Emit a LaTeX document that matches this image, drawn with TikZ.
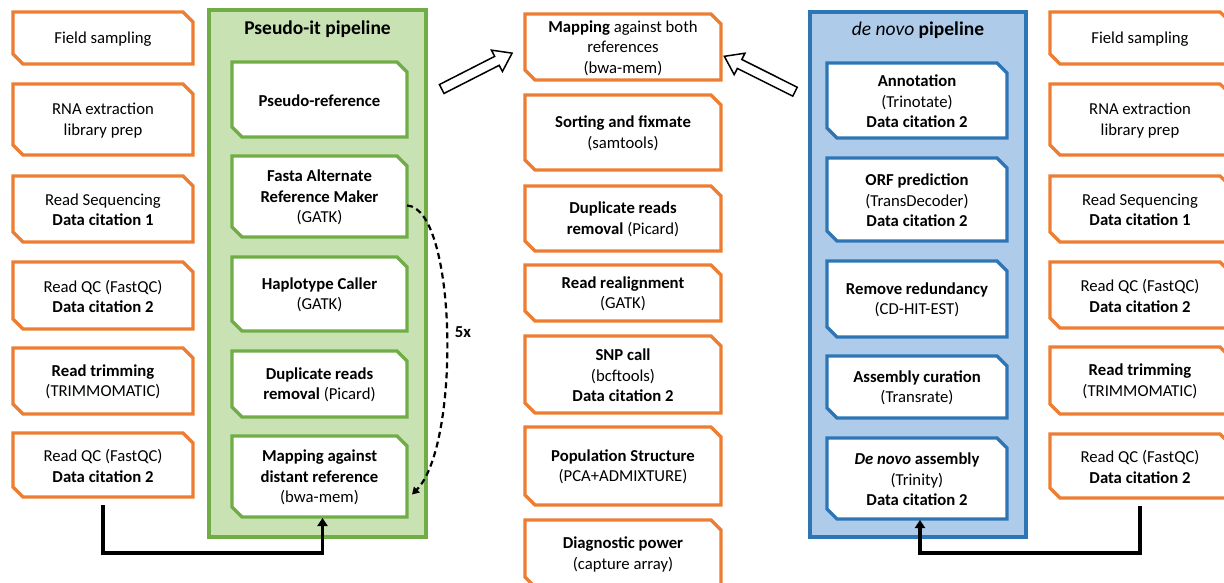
\documentclass[tikz,border=0pt]{standalone}
\usepackage{fontspec}
\setmainfont{Carlito}
\usetikzlibrary{arrows.meta}
\definecolor{orng}{RGB}{237,125,49}
\definecolor{grn}{RGB}{112,173,71}
\definecolor{grnfill}{RGB}{200,226,180}
\definecolor{blu}{RGB}{46,117,182}
\definecolor{blufill}{RGB}{174,204,234}
\newcommand\snipbox[7]{%
  \draw[boxline,draw=#2] (#3,#4) -- ({#5-10},#4) -- (#5,{#4+10}) -- (#5,#6) -- ({#3+10},#6) -- (#3,{#6-10}) -- cycle;
  \node[txt,minimum width={#5-#3},minimum height={#6-#4}] (#1) at ({(#3+#5)/2},{(#4+#6)/2+1}) {#7};
}
\begin{document}
\begin{tikzpicture}[x=1pt,y=-1pt,
  boxline/.style={line width=3.2pt,fill=white,line join=miter},
  txt/.style={align=center,inner sep=0pt,outer sep=0pt,font=\fontsize{16.7}{20.5}\selectfont,text=black},
  panel/.style={line width=3.5pt},
  ttl/.style={inner sep=0pt,font=\fontsize{19.5}{22}\selectfont\bfseries},
  conn/.style={line width=3.5pt,-{Triangle[width=10pt,length=8pt]}},
  blockarrow/.style={line width=1.5pt,draw=black,fill=white,line join=miter},
  loop/.style={line width=2.2pt,dash pattern=on 6pt off 4pt,-{Triangle[width=8pt,length=7pt]}}]
\useasboundingbox (0,0) rectangle (1224,583);

% panels
\draw[panel,draw=grn,fill=grnfill] (209,10) rectangle (426,537);
\node[ttl] (gtitle) at (317.5,29) {Pseudo-it pipeline};
\draw[panel,draw=blu,fill=blufill] (810,12) rectangle (1026,537);
\node[ttl] (btitle) at (918,30) {{\mdseries\itshape de novo} pipeline};

% left column
\snipbox{l1}{orng}{13}{12}{193}{64}{Field sampling}
\snipbox{l2}{orng}{13}{84}{193}{155}{RNA extraction\\library prep}
\snipbox{l3}{orng}{13}{176}{193}{242}{Read Sequencing\\\textbf{Data citation 1}}
\snipbox{l4}{orng}{13}{262}{193}{329}{Read QC (FastQC)\\\textbf{Data citation 2}}
\snipbox{l5}{orng}{13}{348}{193}{414}{\textbf{Read trimming}\\(TRIMMOMATIC)}
\snipbox{l6}{orng}{13}{433}{193}{497}{Read QC (FastQC)\\\textbf{Data citation 2}}

% right column
\snipbox{r1}{orng}{1050}{12}{1230}{64}{Field sampling}
\snipbox{r2}{orng}{1050}{84}{1230}{155}{RNA extraction\\library prep}
\snipbox{r3}{orng}{1050}{176}{1230}{242}{Read Sequencing\\\textbf{Data citation 1}}
\snipbox{r4}{orng}{1050}{262}{1230}{328}{Read QC (FastQC)\\\textbf{Data citation 2}}
\snipbox{r5}{orng}{1050}{347}{1230}{414}{\textbf{Read trimming}\\(TRIMMOMATIC)}
\snipbox{r6}{orng}{1050}{434}{1230}{498}{Read QC (FastQC)\\\textbf{Data citation 2}}

% green pipeline
\snipbox{g1}{grn}{232}{62}{407}{137}{\textbf{Pseudo-reference}}
\snipbox{g2}{grn}{232}{156}{407}{237}{\textbf{Fasta Alternate}\\\textbf{Reference Maker}\\(GATK)}
\snipbox{g3}{grn}{232}{257}{407}{331}{\textbf{Haplotype Caller}\\(GATK)}
\snipbox{g4}{grn}{232}{351}{407}{417}{\textbf{Duplicate reads}\\\textbf{removal} (Picard)}
\snipbox{g5}{grn}{232}{436}{407}{517}{\textbf{Mapping against}\\\textbf{distant reference}\\(bwa-mem)}

% middle column
\snipbox{m1}{orng}{525}{14}{721}{80}{\textbf{Mapping} against both\\references\\(bwa-mem)}
\snipbox{m2}{orng}{525}{95}{721}{170}{\textbf{Sorting and fixmate}\\(samtools)}
\snipbox{m3}{orng}{525}{186}{721}{251}{\textbf{Duplicate reads}\\\textbf{removal} (Picard)}
\snipbox{m4}{orng}{525}{265}{721}{321}{\textbf{Read realignment}\\(GATK)}
\snipbox{m5}{orng}{525}{336}{721}{413}{\textbf{SNP call}\\(bcftools)\\\textbf{Data citation 2}}
\snipbox{m6}{orng}{525}{427}{721}{505}{\textbf{Population Structure}\\(PCA+ADMIXTURE)}
\snipbox{m7}{orng}{525}{520}{721}{587}{\textbf{Diagnostic power}\\(capture array)}

% blue pipeline
\snipbox{b1}{blu}{827}{63}{1007}{138}{\textbf{Annotation}\\(Trinotate)\\\textbf{Data citation 2}}
\snipbox{b2}{blu}{827}{158}{1007}{241}{\textbf{ORF prediction}\\(TransDecoder)\\\textbf{Data citation 2}}
\snipbox{b3}{blu}{827}{261}{1007}{337}{\textbf{Remove redundancy}\\(CD-HIT-EST)}
\snipbox{b4}{blu}{827}{356}{1007}{418}{\textbf{Assembly curation}\\(Transrate)}
\snipbox{b5}{blu}{827}{438}{1007}{519}{\textbf{\textit{De novo} assembly}\\(Trinity)\\\textbf{Data citation 2}}

% connectors
\draw[conn] ([yshift=-7pt]l6.south) -- ++(0,48) -| ([xshift=3pt]g5.south);
\draw[conn] ([yshift=-7pt]r6.south) -- ++(0,47) -| ([xshift=3pt]b5.south);
\draw[loop] ([yshift=-8pt]g2.east) .. controls (457,208) and (461,445) .. ([xshift=5pt,yshift=-17pt]g5.east);
\node[txt,font=\fontsize{16.7}{20}\selectfont\bfseries] (five) at (463,332) {5x};

% block arrows
\begin{scope}[shift={(441.7,89)},rotate=27]
  \draw[blockarrow] (0,-5) -- (62,-5) -- (62,-12) -- (79,0) -- (62,12) -- (62,5) -- (0,5) -- cycle;
\end{scope}
\begin{scope}[shift={(795,91.7)},rotate=153.4]
  \draw[blockarrow] (0,-5) -- (62,-5) -- (62,-12) -- (79,0) -- (62,12) -- (62,5) -- (0,5) -- cycle;
\end{scope}
\end{tikzpicture}
\end{document}
